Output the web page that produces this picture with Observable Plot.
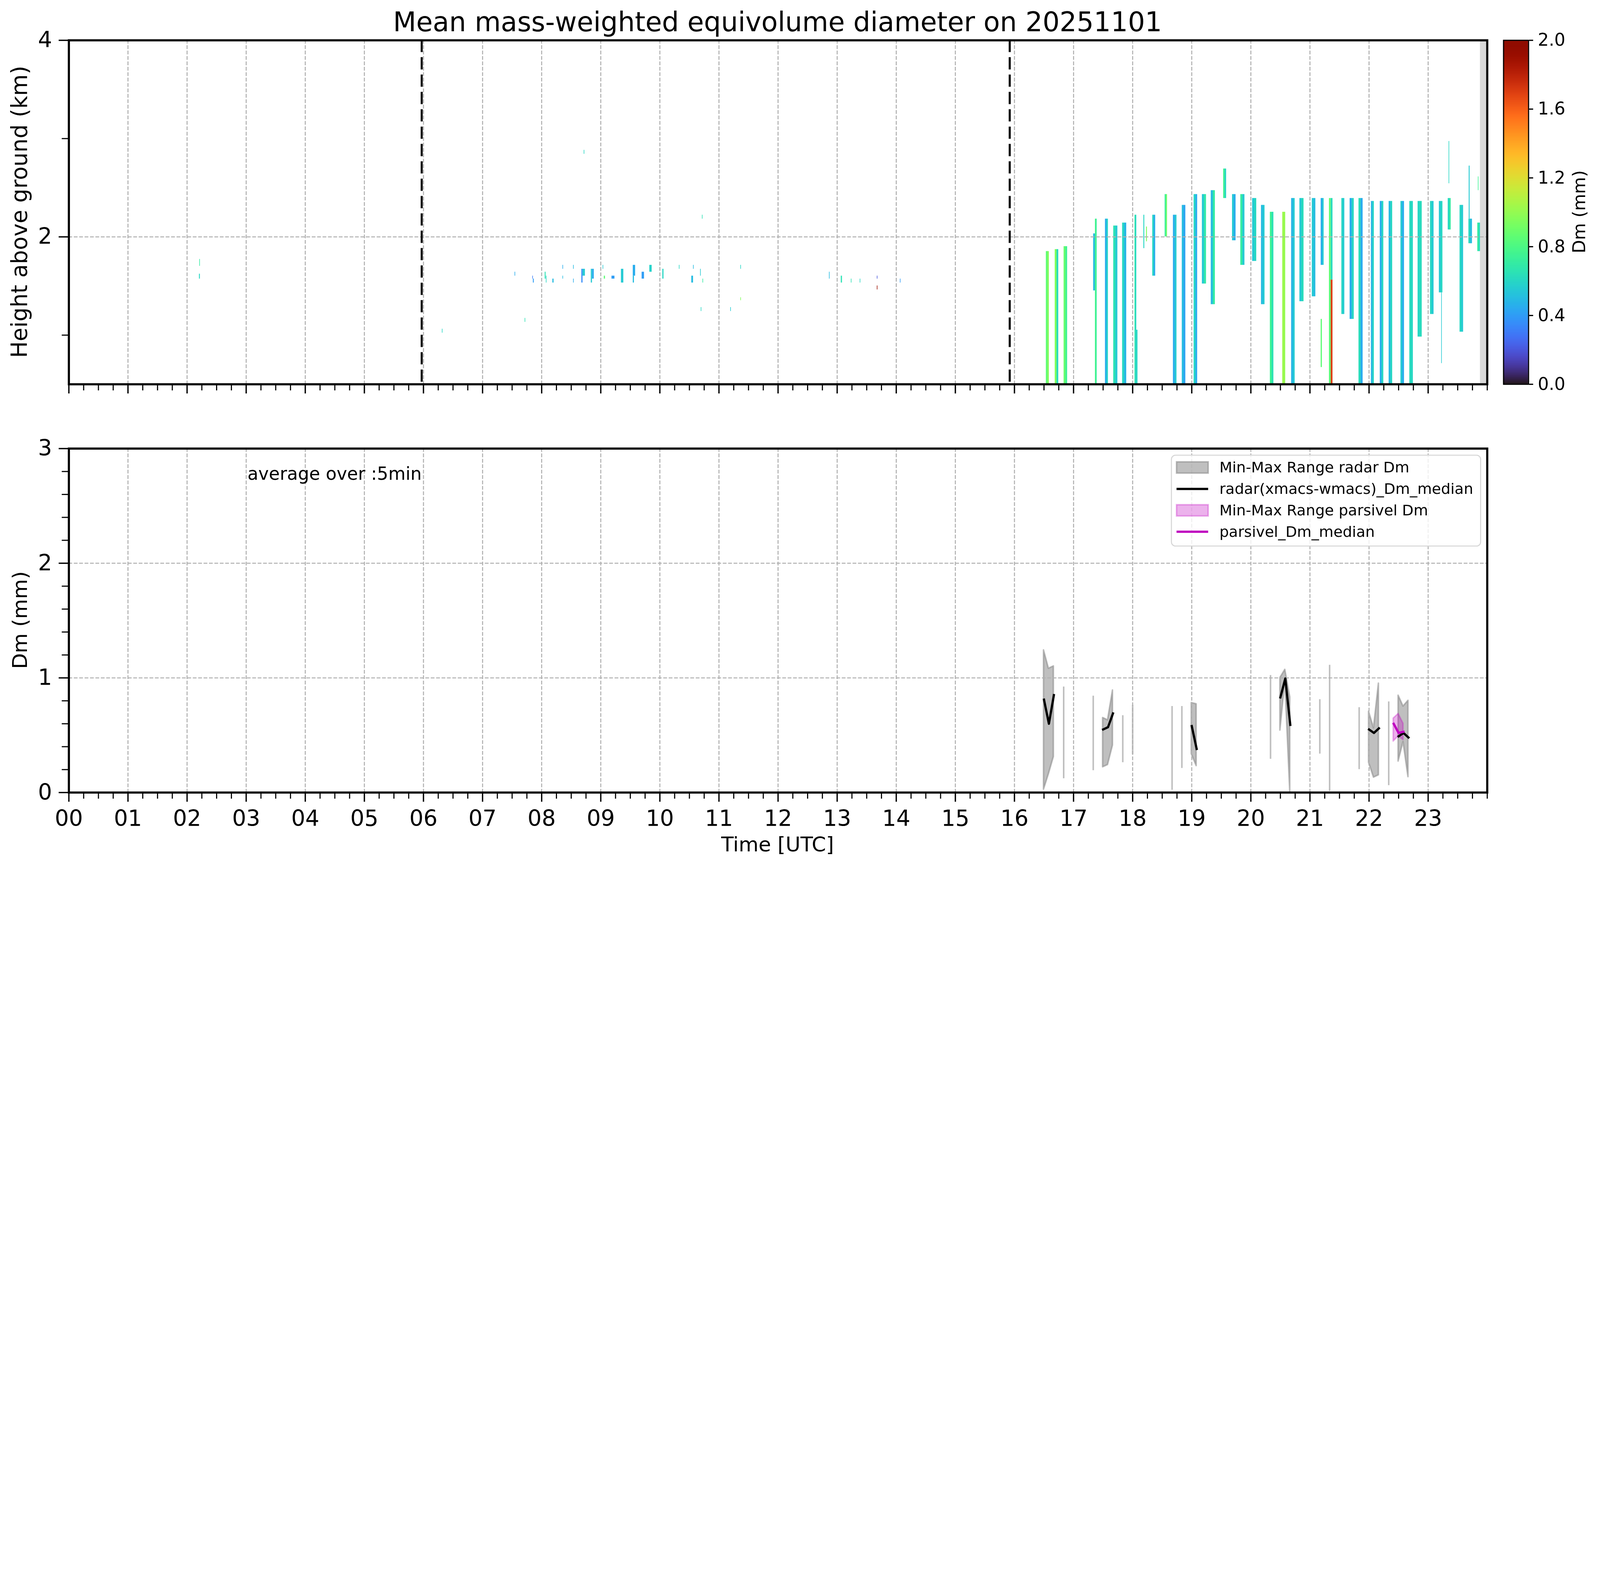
<!DOCTYPE html>
<html><head><meta charset="utf-8">
<script src="https://cdn.jsdelivr.net/npm/d3@7"></script>
<script src="https://cdn.jsdelivr.net/npm/@observablehq/plot@0.6"></script>
<style>
html,body{margin:0;padding:0;background:#fff;overflow:hidden;}
#fig{position:absolute;left:0;top:0;width:1568px;height:849.3px;transform-origin:0 0;font-family:"DejaVu Sans";background:#fff;}
#fig svg{position:absolute;overflow:visible;}
</style></head><body><div id="fig"></div>
<script>
// ---------------- data ----------------
const titleText = "Mean mass-weighted equivolume diameter on 20251101";
const hourTicks = [0,1,2,3,4,5,6,7,8,9,10,11,12,13,14,15,16,17,18,19,20,21,22,23];
const heightTicks = [2, 4];
const heightMinorTicks = [1, 3];
const dmTicks = [0, 1, 2, 3];
const dmMinorTicks = [0.2,0.4,0.6,0.8,1.2,1.4,1.6,1.8,2.2,2.4,2.6,2.8];
const cbarTicks = [0, 0.4, 0.8, 1.2, 1.6, 2.0];
const markerTimes = [5.97, 15.92];
const noDataStart = [23.885];
const noDataEnd = [24.0];

// radar profile columns (time in hours, height in km, Dm in mm)
const colStart = [16.54,16.69,16.84,17.37,17.54,17.68,17.83,18.04,18.34,18.55,18.69,18.84,19.04,19.18,19.33,19.54,19.69,19.83,20.03,20.18,20.33,20.54,20.69,20.83,21.04,21.19,21.54,21.68,21.83,22.04,22.19,22.34,22.54,22.69,22.83,23.04,23.19,23.34,23.54,23.69,23.84];
const colEnd   = [16.59,16.75,16.90,17.40,17.59,17.75,17.90,18.07,18.39,18.59,18.75,18.90,19.10,19.25,19.40,19.59,19.75,19.90,20.10,20.24,20.39,20.59,20.75,20.90,21.10,21.24,21.59,21.75,21.90,22.09,22.25,22.40,22.60,22.75,22.90,23.10,23.25,23.39,23.60,23.75,23.89];
const colBase  = [0.5,0.5,0.5,0.5,0.5,0.5,0.5,0.5,1.6,2.0,0.5,0.5,0.5,1.52,1.31,2.39,1.96,1.71,1.75,1.31,0.5,0.5,0.5,1.34,1.39,1.71,1.21,1.16,0.5,0.5,0.5,0.5,0.5,0.5,0.98,1.21,1.43,2.07,1.03,1.93,1.85];
const colTop   = [1.85,1.87,1.90,2.18,2.18,2.11,2.14,2.22,2.22,2.43,2.22,2.32,2.43,2.43,2.47,2.69,2.43,2.43,2.39,2.32,2.25,2.25,2.39,2.39,2.39,2.39,2.39,2.39,2.39,2.36,2.36,2.36,2.36,2.36,2.36,2.36,2.36,2.39,2.32,2.18,2.14];
const colDmL   = [0.85,0.95,0.88,0.78,0.45,0.65,0.60,0.68,0.60,0.72,0.45,0.50,0.60,0.55,0.50,0.75,0.55,0.70,0.55,0.50,0.75,1.02,0.48,0.55,0.55,0.45,0.60,0.45,0.62,0.48,0.45,0.50,0.55,0.62,0.60,0.60,0.55,0.60,0.60,0.60,0.70];
const colDmR   = [0.95,0.62,0.75,0.72,0.58,0.55,0.48,0.58,0.45,0.90,0.55,0.42,0.45,0.68,0.70,0.60,0.45,0.55,0.60,0.55,0.65,1.00,0.55,0.62,0.50,0.55,0.55,0.60,0.45,0.60,0.60,0.60,0.45,0.60,0.62,0.55,0.60,0.70,0.55,0.50,0.60];

// smaller radar echoes
const bitStart = [17.34,18.07,18.19,18.235,21.19,21.33,21.36,21.36,23.23,23.355,23.695,23.85,
  2.21,2.215,6.32,7.55,7.72,7.85,7.86,8.06,8.08,8.19,8.36,8.36,8.54,8.54,8.68,8.70,8.72,8.84,8.86,9.04,9.06,9.19,9.35,9.55,9.55,9.70,9.83,10.05,10.33,10.54,10.57,10.69,10.72,10.73,10.70,11.20,11.37,11.37,12.87,13.07,13.24,13.39,13.68,13.68,14.07];
const bitEnd   = [17.37,18.09,18.205,18.25,21.21,21.36,21.39,21.39,23.24,23.365,23.71,23.86,
  2.225,2.225,6.33,7.56,7.73,7.86,7.875,8.075,8.09,8.21,8.37,8.37,8.55,8.55,8.70,8.74,8.73,8.86,8.89,9.05,9.08,9.24,9.39,9.59,9.57,9.74,9.87,10.07,10.34,10.57,10.58,10.70,10.73,10.74,10.71,11.21,11.38,11.38,12.88,13.09,13.25,13.40,13.69,13.69,14.08];
const bitBase  = [1.45,0.5,1.88,1.95,0.67,0.5,1.56,0.5,0.71,2.54,2.18,2.47,
  1.57,1.70,1.02,1.60,1.13,1.57,1.53,1.57,1.53,1.53,1.67,1.57,1.67,1.53,1.53,1.60,2.84,1.53,1.57,1.67,1.57,1.57,1.53,1.60,1.53,1.57,1.64,1.57,1.67,1.53,1.67,1.60,2.18,1.53,1.24,1.24,1.67,1.35,1.57,1.53,1.53,1.53,1.57,1.46,1.53];
const bitTop   = [2.03,1.05,2.22,2.10,1.16,2.39,2.39,1.56,1.43,2.97,2.72,2.61,
  1.62,1.77,1.06,1.64,1.17,1.60,1.57,1.64,1.60,1.57,1.71,1.60,1.71,1.57,1.67,1.67,2.88,1.67,1.67,1.71,1.60,1.60,1.67,1.71,1.60,1.64,1.71,1.67,1.71,1.60,1.71,1.67,2.22,1.57,1.28,1.28,1.71,1.38,1.64,1.60,1.57,1.57,1.60,1.50,1.57];
const bitDm    = [0.50,0.60,0.60,0.95,0.85,0.85,0.62,1.70,0.55,0.60,0.55,0.75,
  0.60,0.70,0.60,0.45,0.65,0.30,0.40,0.65,0.60,0.50,0.45,0.50,0.50,0.45,0.35,0.55,0.60,0.55,0.45,0.55,0.85,0.40,0.55,0.45,0.50,0.40,0.58,0.60,0.60,0.50,0.50,0.55,0.65,0.70,0.60,0.55,0.60,0.95,0.50,0.65,0.65,0.60,0.20,1.90,0.40];

// 5-min statistics (bottom panel)
const radarTime = [16.5,16.583,16.667,16.833,17.333,17.5,17.583,17.667,17.833,18.0,18.667,18.833,19.0,19.083,20.333,20.5,20.583,20.667,21.167,21.333,21.833,22.0,22.083,22.167,22.333,22.5,22.583,22.667];
const radarMin  = [0.025,0.16,0.31,0.12,0.19,0.22,0.24,0.41,0.26,0.33,0.02,0.21,0.335,0.23,0.29,0.54,0.97,0.0,0.335,0.01,0.20,0.26,0.13,0.15,0.06,0.27,0.44,0.134];
const radarMax  = [1.24,1.08,1.10,0.92,0.84,0.65,0.63,0.89,0.67,0.76,0.75,0.75,0.78,0.77,1.02,1.0,1.07,0.83,0.81,1.11,0.74,0.705,0.56,0.95,0.79,0.845,0.75,0.80];
const radarMed  = [0.81,0.60,0.85,null,null,0.55,0.57,0.69,null,null,null,null,0.58,0.38,null,0.83,0.995,0.59,null,null,null,0.55,0.52,0.56,null,0.49,0.52,0.48];
const parsTime = [22.417, 22.5, 22.583];
const parsMin  = [0.445, 0.49, 0.457];
const parsMax  = [0.645, 0.685, 0.60];
const parsMed  = [0.60, 0.52, 0.53];

const legendLabels = ["Min-Max Range radar Dm", "radar(xmacs-wmacs)_Dm_median", "Min-Max Range parsivel Dm", "parsivel_Dm_median"];
const annotation = "average over :5min";

// ---------------- build ----------------
const S = (window.innerWidth || 7442) / 1568;
const fig = document.getElementById("fig");
fig.style.transform = `scale(${S})`;

const FONT = "DejaVu Sans";
const gridStyle = {stroke: "#b0b0b0", strokeOpacity: 1, strokeWidth: 1, strokeDasharray: "3.7,1.6"};
const quarterTicks = hourTicks.flatMap(h => [h + 0.25, h + 0.5, h + 0.75]);
const colorScale = {type: "linear", scheme: "turbo", domain: [0, 2]};

const topRects = [];
colStart.forEach((t0, i) => {
  const t1 = colEnd[i], mid = (t0 + t1) / 2;
  topRects.push({t0, t1: mid + 0.004, bot: colBase[i], top: colTop[i], dm: colDmL[i]});
  topRects.push({t0: mid, t1, bot: colBase[i], top: colTop[i], dm: colDmR[i]});
});
bitStart.forEach((t0, i) => topRects.push({t0, t1: bitEnd[i], bot: bitBase[i], top: bitTop[i], dm: bitDm[i]}));
const noData = noDataStart.map((s, i) => ({s, e: noDataEnd[i]}));

const topPlot = Plot.plot({
  width: 1568, height: 400,
  marginLeft: 67, marginRight: 111, marginTop: 39, marginBottom: 24,
  style: {fontFamily: FONT, fontSize: "21.7px", color: "black", background: "transparent", overflow: "visible"},
  x: {domain: [0, 24], label: null},
  y: {domain: [0.5, 4], label: null},
  color: colorScale,
  marks: [
    Plot.rect(topRects, {x1: "t0", x2: "t1", y1: "bot", y2: "top", fill: "dm"}),
    Plot.rect(noData, {x1: "s", x2: "e", fill: "#d9d9d9"}),
    Plot.gridX(hourTicks, gridStyle),
    Plot.gridY([2], gridStyle),
    Plot.ruleX(markerTimes, {stroke: "black", strokeWidth: 2, strokeDasharray: "12,5"}),
    Plot.axisX(hourTicks, {tickSize: 9.5, strokeWidth: 1.3, tickFormat: () => "", label: null}),
    Plot.axisX(quarterTicks.concat([24]), {tickSize: 6.5, strokeWidth: 1.1, tickFormat: () => "", label: null}),
    Plot.axisY(heightTicks, {tickSize: 9.5, tickPadding: 7, strokeWidth: 1.3, fontSize: 21.7, tickFormat: d3.format("d"), label: null}),
    Plot.axisY(heightMinorTicks, {tickSize: 6.5, strokeWidth: 1.1, tickFormat: () => "", label: null}),
    Plot.frame({stroke: "black", strokeWidth: 2.1})
  ]
});
topPlot.style.left = "0px"; topPlot.style.top = "0px";
fig.appendChild(topPlot);

// colorbar
const cbSteps = d3.range(0, 2, 0.01);
const cbPlot = Plot.plot({
  width: 100, height: 400,
  marginLeft: 0, marginRight: 75.5, marginTop: 39, marginBottom: 24,
  style: {fontFamily: FONT, fontSize: "17px", color: "black", background: "transparent", overflow: "visible"},
  x: {domain: [0, 1], axis: null},
  y: {domain: [0, 2], label: null},
  color: colorScale,
  marks: [
    Plot.rect(cbSteps, {x1: 0, x2: 1, y1: d => d, y2: d => Math.min(2, d + 0.013), fill: d => d + 0.005}),
    Plot.axisY(cbarTicks, {anchor: "right", tickSize: 4, tickPadding: 5, strokeWidth: 1.2, fontSize: 17, tickFormat: d3.format(".1f"), label: null}),
    Plot.frame({stroke: "black", strokeWidth: 1.1})
  ]
});
cbPlot.style.left = "1473px"; cbPlot.style.top = "0px";
fig.appendChild(cbPlot);

// bottom panel
const radarRows = [];
let g = 0;
radarTime.forEach((t, i) => {
  if (i > 0 && t - radarTime[i - 1] > 0.09) g++;
  radarRows.push({t, min: radarMin[i], max: radarMax[i], med: radarMed[i], g});
});
const groupSize = d3.rollup(radarRows, v => v.length, d => d.g);
const radarMulti = radarRows.filter(d => groupSize.get(d.g) > 1);
const radarSingle = radarRows.filter(d => groupSize.get(d.g) === 1);
const parsRows = parsTime.map((t, i) => ({t, min: parsMin[i], max: parsMax[i], med: parsMed[i]}));

const botPlot = Plot.plot({
  width: 1568, height: 449.3,
  marginLeft: 67, marginRight: 111, marginTop: 39, marginBottom: 73.3,
  style: {fontFamily: FONT, fontSize: "21.7px", color: "black", background: "transparent", overflow: "visible"},
  x: {domain: [0, 24], label: null},
  y: {domain: [0, 3], label: null},
  marks: [
    Plot.areaY(radarMulti, {x: "t", y1: "min", y2: "max", z: "g", fill: "gray", fillOpacity: 0.5, stroke: "gray", strokeOpacity: 0.5, strokeWidth: 1.5}),
    Plot.ruleX(radarSingle, {x: "t", y1: "min", y2: "max", stroke: "gray", strokeOpacity: 0.5, strokeWidth: 1.5}),
    Plot.areaY(parsRows, {x: "t", y1: "min", y2: "max", fill: "#bf00bf", fillOpacity: 0.3, stroke: "#bf00bf", strokeOpacity: 0.3, strokeWidth: 1.5}),
    Plot.gridX(hourTicks, gridStyle),
    Plot.gridY([1, 2], gridStyle),
    Plot.line(radarMulti, {x: "t", y: "med", z: "g", stroke: "black", strokeWidth: 2.2, strokeLinecap: "square", strokeLinejoin: "round"}),
    Plot.line(parsRows, {x: "t", y: "med", stroke: "#bf00bf", strokeWidth: 2.2, strokeLinecap: "square", strokeLinejoin: "round"}),
    Plot.axisX(hourTicks, {tickSize: 9.5, tickPadding: 8, strokeWidth: 1.3, fontSize: 21.7, tickFormat: d3.format("02d"), label: null}),
    Plot.axisX(quarterTicks.concat([24]), {tickSize: 6.5, strokeWidth: 1.1, tickFormat: () => "", label: null}),
    Plot.axisY(dmTicks, {tickSize: 9.5, tickPadding: 7, strokeWidth: 1.3, fontSize: 21.7, tickFormat: d3.format("d"), label: null}),
    Plot.axisY(dmMinorTicks, {tickSize: 6.5, strokeWidth: 1.1, tickFormat: () => "", label: null}),
    Plot.frame({stroke: "black", strokeWidth: 2.1})
  ]
});
botPlot.style.left = "0px"; botPlot.style.top = "400px";
fig.appendChild(botPlot);

// overlay: titles, labels, annotation, legend
const ov = d3.select(fig).append("svg")
  .attr("width", 1568).attr("height", 849.3)
  .style("left", "0px").style("top", "0px")
  .attr("font-family", FONT).attr("fill", "black");
ov.append("text").attr("x", 762).attr("y", 30.6).attr("text-anchor", "middle").attr("font-size", 26.3).text(titleText);
ov.append("text").attr("transform", "translate(26.5,207.5) rotate(-90)").attr("text-anchor", "middle").attr("font-size", 21.7).text("Height above ground (km)");
ov.append("text").attr("transform", "translate(26.5,607.5) rotate(-90)").attr("text-anchor", "middle").attr("font-size", 20).text("Dm (mm)");
ov.append("text").attr("transform", "translate(1553.5,207.5) rotate(-90)").attr("text-anchor", "middle").attr("font-size", 17).text("Dm (mm)");
ov.append("text").attr("x", 762).attr("y", 834).attr("text-anchor", "middle").attr("font-size", 20).text("Time [UTC]");
ov.append("text").attr("x", 242.5).attr("y", 470).attr("font-size", 17.4).text(annotation);

const lg = ov.append("g");
lg.append("rect").attr("x", 1148).attr("y", 446).attr("width", 303).attr("height", 89).attr("rx", 4)
  .attr("fill", "white").attr("fill-opacity", 0.8).attr("stroke", "#d6d6d6").attr("stroke-width", 1);
const rowY = [458, 479, 500, 521];
// grey patch
lg.append("rect").attr("x", 1153).attr("y", rowY[0] - 5.5).attr("width", 31).attr("height", 11)
  .attr("fill", "gray").attr("fill-opacity", 0.5).attr("stroke", "gray").attr("stroke-opacity", 0.5).attr("stroke-width", 1.5);
lg.append("line").attr("x1", 1153).attr("x2", 1184).attr("y1", rowY[1]).attr("y2", rowY[1]).attr("stroke", "black").attr("stroke-width", 2.2);
lg.append("rect").attr("x", 1153).attr("y", rowY[2] - 5.5).attr("width", 31).attr("height", 11)
  .attr("fill", "#bf00bf").attr("fill-opacity", 0.3).attr("stroke", "#bf00bf").attr("stroke-opacity", 0.3).attr("stroke-width", 1.5);
lg.append("line").attr("x1", 1153).attr("x2", 1184).attr("y1", rowY[3]).attr("y2", rowY[3]).attr("stroke", "#bf00bf").attr("stroke-width", 2.2);
legendLabels.forEach((s, i) => {
  lg.append("text").attr("x", 1195).attr("y", rowY[i] + 5).attr("font-size", 14.6).text(s);
});
</script></body></html>
